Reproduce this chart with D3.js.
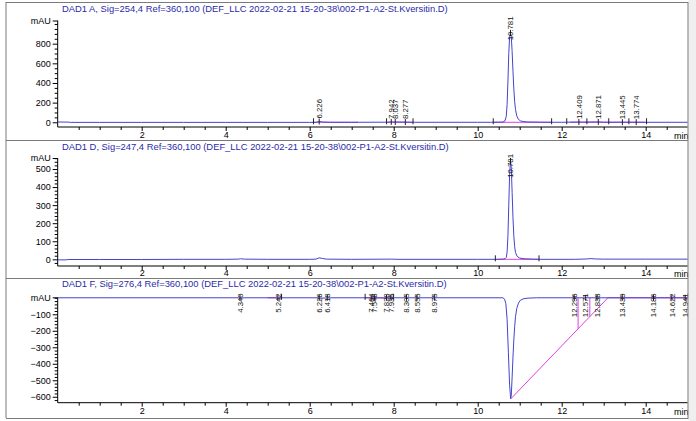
<!DOCTYPE html>
<html><head><meta charset="utf-8">
<script src="https://cdn.jsdelivr.net/npm/d3@7"></script>
<style>
html,body{margin:0;padding:0;background:#fff;}
svg{display:block;font-family:"Liberation Sans",Arial,sans-serif;}
</style></head>
<body>
<svg id="chart" width="696" height="421"></svg>
<script>
// ---------------- DATA ----------------
const titles = [
  "DAD1 A, Sig=254,4 Ref=360,100 (DEF_LLC 2022-02-21 15-20-38\\002-P1-A2-St.Kversitin.D)",
  "DAD1 D, Sig=247,4 Ref=360,100 (DEF_LLC 2022-02-21 15-20-38\\002-P1-A2-St.Kversitin.D)",
  "DAD1 F, Sig=276,4 Ref=360,100 (DEF_LLC 2022-02-21 15-20-38\\002-P1-A2-St.Kversitin.D)"
];
const xTicks = [2, 4, 6, 8, 10, 12, 14];
const xUnit = "min";
const yUnit = "mAU";
const yTicksA = [0, 200, 400, 600, 800];
const yTicksD = [0, 100, 200, 300, 400, 500];
const yTicksF = [-600, -500, -400, -300, -200, -100];

// traces: [time (min), signal (mAU)]
const traceA = [[0,3],[0.25,2],[0.3,-1],[1,-1],[2,-1],[3,-1],[4,-1],[5,-1],[6,-1],[6.15,0],[6.2,5],[6.23,8],[6.3,3],[6.5,0],[7,0],[7.85,1],[7.94,4],[8.04,3],[8.28,2],[8.5,0],[10,0],[10.3,0],[10.6,2],[10.65,15],[10.68,60],[10.70,180],[10.72,420],[10.74,700],[10.76,870],[10.78,910],[10.80,870],[10.82,720],[10.84,520],[10.86,340],[10.88,210],[10.90,130],[10.93,65],[10.97,30],[11.02,14],[11.1,6],[11.2,3],[11.5,1],[12,0],[12.4,3],[12.5,2],[12.87,4],[13,1],[13.445,1],[13.774,1],[14,0],[15,0]];
const traceD = [[0,-3],[0.2,-3],[0.25,-1],[1,-1],[2,-1],[3,0],[4,0],[4.3,1],[4.35,3],[4.45,1],[5,0],[6,0],[6.15,1],[6.22,8],[6.3,5],[6.4,1],[7,0],[7.95,1],[8.1,0],[10,0],[10.45,0],[10.6,1],[10.65,3],[10.68,10],[10.70,40],[10.72,130],[10.74,300],[10.76,470],[10.78,545],[10.80,505],[10.82,370],[10.84,230],[10.86,130],[10.88,70],[10.90,38],[10.94,16],[11.0,7],[11.1,3],[11.3,1],[11.5,0],[12.3,0],[12.6,2],[12.7,4],[12.8,2],[13,1],[14,1],[15,1]];
const traceF = [[0,0],[4.3,0],[4.34,-2],[4.4,0],[5.2,0],[5.24,-3],[5.3,0],[6.2,0],[6.23,-2],[6.42,-1],[6.5,0],[7.45,0],[7.5,-2],[7.6,0],[7.85,-2],[7.95,0],[10.6,0],[10.64,-8],[10.67,-35],[10.70,-130],[10.73,-330],[10.76,-530],[10.785,-612],[10.80,-590],[10.82,-480],[10.84,-360],[10.86,-255],[10.88,-175],[10.90,-115],[10.93,-65],[10.97,-32],[11.02,-14],[11.1,-5],[11.2,-2],[11.4,0],[15,0]];

// peak labels: retention times, labels, apex heights (mAU)
const rtA = [6.226, 7.942, 8.037, 8.277, 10.781, 12.409, 12.871, 13.445, 13.774];
const labA = ["6.226","7.942","8.037","8.277","10.781","12.409","12.871","13.445","13.774"];
const hA = [8, 4, 3, 2, 910, 3, 4, 1, 1];
const rtD = [10.781];
const labD = ["10.781"];
const hD = [545];
const rtF = [4.340,5.242,6.226,6.418,7.464,7.546,7.828,7.935,8.305,8.555,8.975,12.296,12.571,12.838,13.439,14.186,14.622,14.941];
const labF = ["4.340","5.242","6.226","6.418","7.464","7.546","7.828","7.935","8.305","8.555","8.975","12.296","12.571","12.838","13.439","14.186","14.622","14.941"];
const hF = [0,0,0,0,0,0,0,0,0,0,0,0,0,0,0,0,0,0];

// integration baselines (magenta), [time, mAU] polylines
const baseA = [[[6.1,0],[7.15,0]],[[7.83,0],[8.46,0]],[[10.37,0],[11.76,0]],[[12.2,0],[14.02,0]]];
const baseD = [[[10.42,0],[11.46,0]]];
const baseF = [[[5.0,0],[5.33,0]],[[7.32,0],[7.99,0]],[[10.79,-612],[13.1,0],[15,0]]];
const dropF = [[[12.39,0],[12.39,-188]],[[12.67,0],[12.67,-114]]];
// integration event markers (min)
const evA = [6.09, 7.83, 8.46, 10.37, 11.76, 12.12, 12.6, 13.12, 13.6, 14.02];
const evD = [10.42, 11.46];
const evF = [5.33, 7.32, 7.99];

// ---------------- DRAW ----------------
const svg = d3.select("#chart");
const blue = "#4444cc", magenta = "#e040e0", titleCol = "#2b2ba8";
const x = d3.scaleLinear().domain([0, 15]).range([57.7, 687.7]);

const panels = [
  {title: titles[0], trace: traceA, rt: rtA, lab: labA, h: hA, base: baseA, drop: [], ev: evA, yTicks: yTicksA, minor: 50,
   dom: [-48, 1036], rng: [127, 20.5], titleY: 12, pad: 1},
  {title: titles[1], trace: traceD, rt: rtD, lab: labD, h: hD, base: baseD, drop: [], ev: evD, yTicks: yTicksD, minor: 20,
   dom: [-37, 561], rng: [266, 158], titleY: 150, pad: 0},
  {title: titles[2], trace: traceF, rt: rtF, lab: labF, h: hF, base: baseF, drop: dropF, ev: evF, yTicks: yTicksF, minor: 20,
   dom: [-636, 3], rng: [402.7, 297.3], titleY: 287, pad: 1}
];

// frame
const frame = svg.append("g").attr("stroke", "#7a7a7a").attr("fill", "none");
frame.append("line").attr("x1", 6).attr("x2", 6).attr("y1", 2).attr("y2", 418);
frame.append("line").attr("x1", 6).attr("x2", 688).attr("y1", 2.5).attr("y2", 2.5);
frame.append("line").attr("x1", 6).attr("x2", 688).attr("y1", 140.5).attr("y2", 140.5);
frame.append("line").attr("x1", 6).attr("x2", 688).attr("y1", 278.5).attr("y2", 278.5);
frame.append("line").attr("x1", 6).attr("x2", 688).attr("y1", 418.5).attr("y2", 418.5);

const line = (y) => d3.line().x(d => x(d[0])).y(d => y(d[1]));

panels.forEach(p => {
  const y = d3.scaleLinear().domain(p.dom).range(p.rng);
  const g = svg.append("g");

  // title
  g.append("text").attr("x", 62).attr("y", p.titleY).attr("font-size", 9.4).attr("fill", titleCol).text(p.title);

  // y axis (major)
  const ya = g.append("g").attr("transform", `translate(${x(0)},0)`)
    .call(d3.axisLeft(y).tickValues(p.yTicks).tickSize(5).tickPadding(2).tickFormat(d3.format("d")));
  ya.select(".domain").attr("d", `M0,${p.rng[1]}V${p.rng[0]}`);
  // minor y ticks
  const minorVals = d3.range(Math.ceil(p.dom[0] / p.minor) * p.minor, p.dom[1], p.minor).filter(v => !p.yTicks.includes(v));
  g.append("g").attr("transform", `translate(${x(0)},0)`)
    .call(d3.axisLeft(y).tickValues(minorVals).tickSize(3).tickFormat(""))
    .select(".domain").remove();
  // unit tick at top
  const ua = g.append("g").attr("transform", `translate(${x(0)},0)`)
    .call(d3.axisLeft(y).tickValues([p.dom[1]]).tickSize(5).tickPadding(2).tickFormat(() => yUnit));
  ua.select(".domain").remove();

  // x axis
  const xa = g.append("g").attr("transform", `translate(0,${p.rng[0]})`)
    .call(d3.axisBottom(x).tickValues(xTicks).tickSize(4).tickPadding(p.pad).tickFormat(d3.format("d")));
  xa.select(".domain").attr("d", `M${x(0)},0H${x(15)}`);
  g.append("g").attr("transform", `translate(0,${p.rng[0]})`)
    .call(d3.axisBottom(x).tickValues(d3.range(0.5, 15, 0.5).filter(v => !xTicks.includes(v))).tickSize(3).tickFormat(""))
    .select(".domain").remove();
  g.append("text").attr("x", 674).attr("y", p.rng[0] + 11 + p.pad).attr("font-size", 9).attr("fill", "#000").text(xUnit);

  g.selectAll(".tick text").attr("font-size", 9).attr("fill", "#000").attr("font-family", '"Liberation Sans",Arial,sans-serif');
  g.selectAll(".tick line").attr("stroke", "#000");
  g.selectAll(".domain").attr("stroke", "#000");

  // magenta integration baselines
  g.selectAll(".base").data(p.base.concat(p.drop)).join("path")
    .attr("d", line(y)).attr("fill", "none").attr("stroke", magenta).attr("stroke-width", 1);

  // trace
  g.append("path").datum(p.trace).attr("d", line(y))
    .attr("fill", "none").attr("stroke", blue).attr("stroke-width", 1);

  // event markers
  g.selectAll(".ev").data(p.ev).join("line")
    .attr("x1", d => x(d)).attr("x2", d => x(d))
    .attr("y1", y(0) - 4).attr("y2", y(0) + 2).attr("stroke", "#222").attr("stroke-width", 1);

  // peak labels
  const plotTop = p.rng[1] - 4;
  p.rt.forEach((rt, i) => {
    const px = x(rt);
    const apex = y(p.h[i]);
    g.append("line").attr("x1", px).attr("x2", px).attr("y1", apex - 3).attr("y2", apex + 3)
      .attr("stroke", "#222").attr("stroke-width", 1);
    const t = g.append("text").attr("font-size", 7.8).attr("fill", "#111").text(p.lab[i]);
    const len = t.node().getComputedTextLength();
    let baseY = apex - 3;
    if (baseY - len < plotTop) baseY = plotTop + len;
    t.attr("transform", `translate(${px + 2.8},${baseY}) rotate(-90)`);
  });
});

// grey margin on the right
svg.append("rect").attr("x", 688.5).attr("y", 0).attr("width", 8).attr("height", 421).attr("fill", "#efefef");
svg.append("line").attr("x1", 688).attr("x2", 688).attr("y1", 2).attr("y2", 419).attr("stroke", "#7a7a7a");
</script>
</body></html>
